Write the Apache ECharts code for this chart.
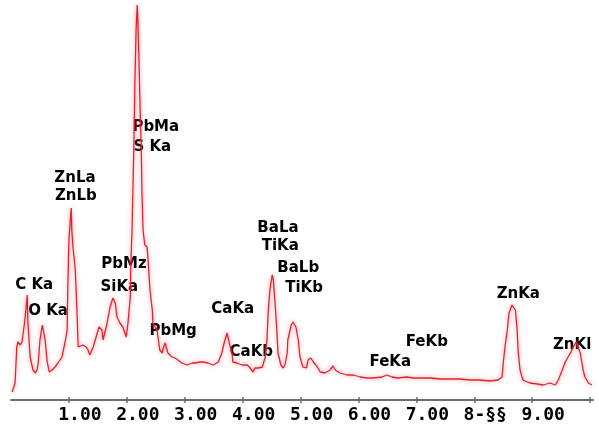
<!DOCTYPE html>
<html>
<head>
<meta charset="utf-8">
<script src="https://cdn.jsdelivr.net/npm/echarts@6/dist/echarts.min.js"></script>
<style>
html,body{margin:0;padding:0;background:#fff;}
#chart{width:599px;height:425px;}
</style>
</head>
<body>
<div id="chart"></div>
<script>
// Spectrum: energy (keV) and intensity (arbitrary counts)
var energy = [0.02,0.07,0.10,0.12,0.16,0.19,0.21,0.24,0.28,0.29,0.33,0.38,0.42,0.45,0.47,0.50,0.54,0.59,0.62,0.66,0.71,0.76,0.81,0.88,0.93,0.97,0.98,1.00,1.04,1.05,1.07,1.11,1.14,1.16,1.19,1.24,1.30,1.33,1.36,1.42,1.49,1.52,1.57,1.59,1.66,1.71,1.76,1.80,1.83,1.88,1.93,1.99,2.02,2.06,2.07,2.09,2.12,2.14,2.16,2.18,2.19,2.21,2.23,2.25,2.26,2.28,2.31,2.35,2.37,2.40,2.44,2.45,2.52,2.57,2.61,2.63,2.66,2.69,2.71,2.78,2.83,2.88,2.95,3.04,3.13,3.18,3.26,3.32,3.40,3.49,3.58,3.64,3.68,3.73,3.77,3.82,3.83,3.90,3.99,4.08,4.13,4.18,4.21,4.27,4.34,4.39,4.42,4.44,4.47,4.51,4.53,4.56,4.59,4.61,4.66,4.70,4.73,4.77,4.78,4.84,4.87,4.92,4.96,4.99,5.04,5.10,5.13,5.18,5.22,5.29,5.34,5.42,5.51,5.56,5.60,5.68,5.80,5.91,6.03,6.15,6.25,6.41,6.49,6.58,6.67,6.84,6.94,7.06,7.24,7.41,7.58,7.76,7.93,8.10,8.27,8.41,8.48,8.50,8.53,8.57,8.60,8.65,8.67,8.71,8.74,8.76,8.79,8.84,8.96,9.09,9.19,9.31,9.40,9.45,9.52,9.57,9.62,9.67,9.71,9.76,9.79,9.83,9.88,9.91,9.97,10.03];
var counts = [8,17,53,58,55,58,60,80,105,80,43,30,27,30,37,60,75,60,40,28,30,33,37,43,57,70,110,160,192,170,153,130,87,53,52,55,53,50,45,53,67,73,70,60,77,93,102,97,83,77,73,63,77,103,137,170,250,320,370,395,380,340,290,250,210,170,155,153,137,110,90,77,70,50,47,52,57,55,47,43,42,40,37,35,37,37,38,38,37,35,38,47,57,67,57,45,38,37,35,35,32,28,32,32,33,43,60,87,110,125,120,97,70,47,35,32,35,47,60,75,78,73,60,43,33,32,40,42,38,33,28,27,30,34,30,27,25,25,23,22,22,23,25,23,22,23,22,22,22,21,21,21,20,20,19,20,23,37,53,70,87,95,97,90,70,47,30,20,17,16,15,17,15,20,30,38,43,48,53,58,57,47,30,23,17,15];

// Peak annotations
var peakNames = ["C Ka","O Ka","ZnLa","ZnLb","PbMz","SiKa","PbMa","S Ka","PbMg","CaKa","CaKb","BaLa","TiKa","BaLb","TiKb","FeKa","FeKb","ZnKa","ZnKl"];
var peakX = [0.40,0.64,1.105,1.12,1.95,1.87,2.50,2.44,2.80,3.83,4.15,4.61,4.65,4.96,5.06,6.55,7.18,8.76,9.69];
var peakY = [115,89,222,204,136,113,273,253,69,91,48,172,154,132,112,38,58,106,55];

// Axis ticks and labels
var tickValues = [1,2,3,4,5,6,7,8,9,10];
var labelValues = [1,2,3,4,5,6,7,8,9];
var labelTexts = {1:"1.00",2:"2.00",3:"3.00",4:"4.00",5:"5.00",6:"6.00",7:"7.00",8:"8-§§",9:"9.00"};

var chart = echarts.init(document.getElementById('chart'), null, {renderer:'canvas'});
var lineData = energy.map(function(e,i){return [e, counts[i]];});
var annoData = peakNames.map(function(n,i){return {name:n, value:[peakX[i], peakY[i]]};});

chart.setOption({
  animation:false,
  backgroundColor:'#ffffff',
  grid:{left:11,right:6,top:0,bottom:25},
  xAxis:[{
    type:'value', min:0, max:10.05,
    axisLine:{show:true, lineStyle:{color:'#6e6e6e', width:2}},
    axisTick:{show:true, inside:false, length:3, customValues:tickValues, lineStyle:{color:'#6e6e6e', width:1.5}},
    axisLabel:{show:true, customValues:labelValues, margin:6,
      formatter:function(v){return labelTexts[Math.round(v)]||'';},
      fontFamily:'DejaVu Sans Mono', fontWeight:'bold', fontSize:18, color:'#000',
      padding:[0,0,0,22]},
    splitLine:{show:false}
  },{
    type:'value', min:0, max:10.05, position:'bottom',
    axisLine:{show:false},
    axisTick:{show:true, inside:true, length:3, customValues:tickValues, lineStyle:{color:'#6e6e6e', width:1.5}},
    axisLabel:{show:false},
    splitLine:{show:false}
  }],
  yAxis:{type:'value', min:0, max:400, show:false},
  series:[{
    type:'line', xAxisIndex:0, data:lineData, symbol:'none', smooth:false,
    lineStyle:{color:'#e3232c', width:1.3, shadowColor:'rgba(245,120,130,0.9)', shadowBlur:4},
    silent:true
  },{
    type:'scatter', xAxisIndex:0, data:annoData, symbolSize:1,
    itemStyle:{color:'transparent'},
    label:{show:true, position:'inside', formatter:'{b}', color:'#000', opacity:1,
      textBorderWidth:0, fontFamily:'DejaVu Sans', fontWeight:'bold', fontSize:15},
    silent:true
  }]
});
</script>
</body>
</html>
